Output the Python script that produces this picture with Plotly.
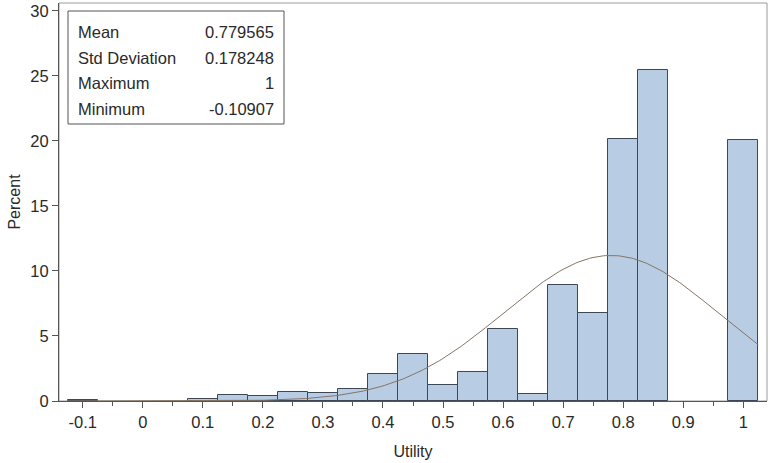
import numpy as np
import plotly.graph_objects as go

# Histogram bins (midpoints) and percent values
bin_mid = [-0.10, -0.05, 0.00, 0.05, 0.10, 0.15, 0.20, 0.25, 0.30, 0.35, 0.40, 0.45,
           0.50, 0.55, 0.60, 0.65, 0.70, 0.75, 0.80, 0.85, 0.90, 0.95, 1.00]
percent = [0.06, 0.0, 0.0, 0.0, 0.15, 0.44, 0.36, 0.72, 0.59, 0.95, 2.08, 3.59,
           1.20, 2.26, 5.56, 0.51, 8.90, 6.74, 20.18, 25.46, 0.0, 0.0, 20.10]
bin_width = 0.05

# Summary statistics shown in the inset
stat_labels = ["Mean", "Std Deviation", "Maximum", "Minimum"]
stat_values = ["0.779565", "0.178248", "1", "-0.10907"]
mean_val = 0.779565
std_val = 0.178248

x_tick_vals = [-0.1, 0.0, 0.1, 0.2, 0.3, 0.4, 0.5, 0.6, 0.7, 0.8, 0.9, 1.0]
x_tick_text = ["-0.1", "0", "0.1", "0.2", "0.3", "0.4", "0.5", "0.6", "0.7", "0.8", "0.9", "1"]
y_tick_vals = [0, 5, 10, 15, 20, 25, 30]

# Fitted normal curve (scaled to percent per bin)
xc = np.linspace(-0.125, 1.025, 300)
yc = 100 * bin_width * np.exp(-0.5 * ((xc - mean_val) / std_val) ** 2) / (std_val * np.sqrt(2 * np.pi))

FONT = "Liberation Sans, Arial, sans-serif"
TXT = "#2a2a2a"

bar_y = [v if v > 0 else None for v in percent]

fig = go.Figure()
fig.add_trace(go.Bar(
    x=bin_mid, y=bar_y, width=bin_width,
    marker=dict(color="#B8CCE4", line=dict(color="#3E4756", width=1)),
    hoverinfo="x+y", showlegend=False,
))
fig.add_trace(go.Scatter(
    x=xc, y=yc, mode="lines",
    line=dict(color="#857565", width=1), showlegend=False, hoverinfo="skip",
))

L, R, T, B = 59, 3, 3, 62
pw, ph = 770 - L - R, 463 - T - B


def px(x):
    return (x - L) / pw


def py(y):
    return (463 - B - y) / ph


shapes = [
    dict(type="rect", xref="paper", yref="paper", x0=px(68), x1=px(284), y0=py(124), y1=py(11),
         line=dict(color="#555555", width=1), fillcolor="rgba(0,0,0,0)"),
    dict(type="rect", xref="paper", yref="paper", x0=0, x1=1, y0=0, y1=1,
         line=dict(color="#9a9a9a", width=1), fillcolor="rgba(0,0,0,0)", layer="below"),
]
annotations = []
row_y = [32, 58, 83, 109]
for lab, val, yy in zip(stat_labels, stat_values, row_y):
    annotations.append(dict(xref="paper", yref="paper", x=px(76), y=py(yy), text=lab, showarrow=False,
                            xanchor="left", yanchor="middle", font=dict(size=16.5, color=TXT, family=FONT)))
    annotations.append(dict(xref="paper", yref="paper", x=px(276), y=py(yy), text=val, showarrow=False,
                            xanchor="right", yanchor="middle", font=dict(size=16.5, color=TXT, family=FONT)))

fig.update_layout(
    width=770, height=463,
    margin=dict(l=L, r=R, t=T, b=B),
    paper_bgcolor="white", plot_bgcolor="white",
    bargap=0,
    font=dict(family=FONT, size=16, color=TXT),
    shapes=shapes, annotations=annotations,
    xaxis=dict(
        range=[-0.1395, 1.0395], tickvals=x_tick_vals, ticktext=x_tick_text,
        ticks="outside", ticklen=6, tickcolor="#555555",
        minor=dict(dtick=0.05, tick0=0, ticks="outside", ticklen=4, tickcolor="#555555"),
        showline=True, linecolor="#555555", linewidth=1, showgrid=False, zeroline=False,
        automargin=False,
        title=dict(text="Utility", font=dict(size=16, color=TXT), standoff=16),
        tickfont=dict(size=16.5, color=TXT),
    ),
    yaxis=dict(
        range=[0, 30.6], tickvals=y_tick_vals,
        ticks="outside", ticklen=6, tickcolor="#555555",
        showline=True, linecolor="#555555", linewidth=1, showgrid=False, zeroline=False,
        automargin=False,
        title=dict(text="Percent", font=dict(size=16, color=TXT), standoff=5),
        tickfont=dict(size=16.5, color=TXT),
    ),
)

fig.write_html("out.html", config={"displayModeBar": False},
               post_script="document.body.style.margin='0';document.body.style.overflow='hidden';")
